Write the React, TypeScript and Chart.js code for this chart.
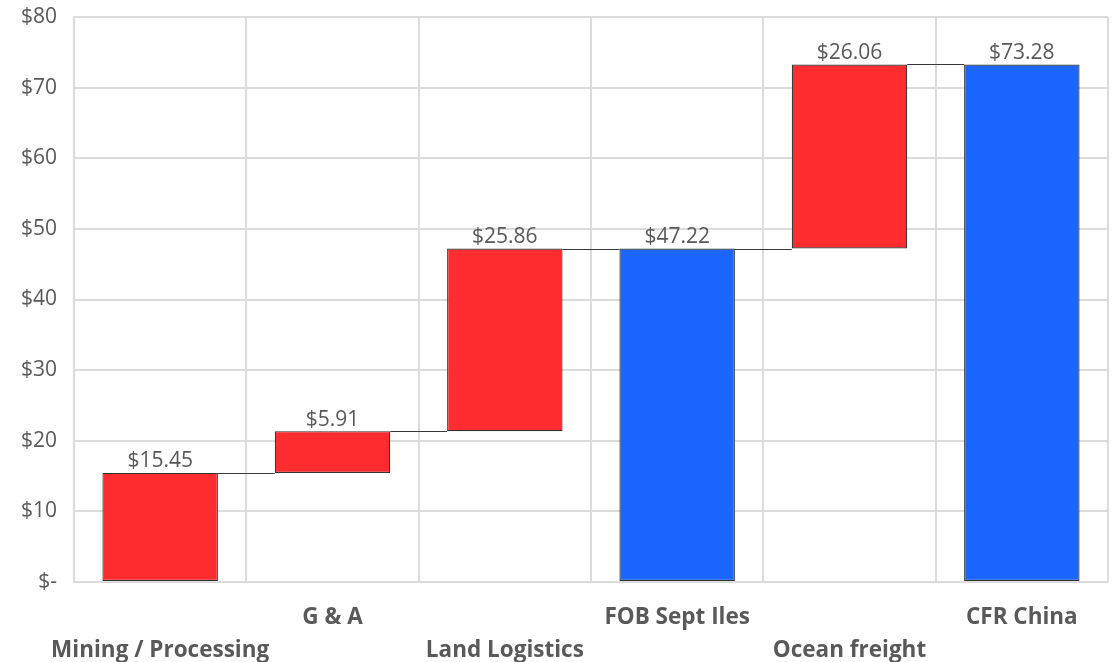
import React, { useEffect, useRef } from "react";
import { Chart, registerables } from "chart.js";

Chart.register(...registerables);

const categories = ["Mining / Processing", "G & A", "Land Logistics", "FOB Sept Iles", "Ocean freight", "CFR China"];
const stepValues = [15.45, 5.91, 25.86, 47.22, 26.06, 73.28];
const isTotal = [false, false, false, true, false, true];
const yTicks = [0, 10, 20, 30, 40, 50, 60, 70, 80];

const RED = "#FF2D2F";
const BLUE = "#1A66FF";
const TEXT = "#595959";
const FONT = "'Open Sans', 'DejaVu Sans', sans-serif";

function buildRanges(): [number, number][] {
  const out: [number, number][] = [];
  let running = 0;
  stepValues.forEach((v, i) => {
    if (isTotal[i]) {
      out.push([0, v]);
      running = v;
    } else {
      out.push([running, running + v]);
      running = running + v;
    }
  });
  return out;
}

const waterfallPlugin = {
  id: "waterfallExtras",
  afterDatasetsDraw(chart: any) {
    const meta = chart.getDatasetMeta(0);
    const ctx = chart.ctx;
    const els = meta.data;
    ctx.save();
    // connectors
    ctx.strokeStyle = "#3a3a3a";
    ctx.lineWidth = 1.2;
    for (let i = 0; i < els.length - 1; i++) {
      const a = els[i];
      const b = els[i + 1];
      const y = Math.round(a.y) + 0.5;
      ctx.beginPath();
      ctx.moveTo(a.x + a.width / 2, y);
      ctx.lineTo(b.x - b.width / 2, y);
      ctx.stroke();
    }
    // labels
    ctx.fillStyle = TEXT;
    ctx.font = `21px ${FONT}`;
    ctx.textAlign = "center";
    ctx.textBaseline = "bottom";
    els.forEach((el: any, i: number) => {
      ctx.fillText("$" + stepValues[i].toFixed(2), el.x, el.y - 1);
    });
    ctx.restore();
  },
};

export default function App() {
  const ref = useRef<HTMLCanvasElement | null>(null);
  useEffect(() => {
    if (!ref.current) return;
    const ranges = buildRanges();
    const chart = new Chart(ref.current, {
      type: "bar",
      data: {
        labels: categories,
        datasets: [
          {
            data: ranges as any,
            backgroundColor: isTotal.map((t) => (t ? BLUE : RED)),
            borderColor: "#333333",
            borderWidth: 1.2,
            borderSkipped: false,
            categoryPercentage: 1,
            barPercentage: 0.67,
          },
        ],
      },
      options: {
        animation: false,
        responsive: true,
        maintainAspectRatio: false,
        layout: { padding: { top: 17, right: 11, left: 0, bottom: 0 } },
        plugins: { legend: { display: false }, tooltip: { enabled: false } },
        scales: {
          x: {
            grid: { color: "#dcdcdc", lineWidth: 2, offset: true, drawTicks: false },
            border: { color: "#dcdcdc", width: 2 },
            ticks: {
              color: TEXT,
              font: { family: FONT, size: 22.5, weight: "bold", lineHeight: 1.47 },
              padding: 19,
              maxRotation: 0,
              autoSkip: false,
              callback: (_v: any, i: number) => (i % 2 === 0 ? ["", categories[i]] : [categories[i], ""]),
            },
            afterFit: (axis: any) => {
              axis.height = 80;
            },
          },
          y: {
            min: 0,
            max: 80,
            afterBuildTicks: (axis: any) => {
              axis.ticks = yTicks.map((v) => ({ value: v }));
            },
            grid: { color: "#dcdcdc", lineWidth: 2, drawTicks: false },
            border: { color: "#dcdcdc", width: 2 },
            ticks: {
              color: TEXT,
              font: { family: FONT, size: 21 },
              padding: 17,
              callback: (v: any) => (v === 0 ? "$-" : "$" + v),
            },
            afterFit: (axis: any) => {
              axis.width = 74;
              axis.paddingTop = 10;
              axis.paddingBottom = 10;
            },
          },
        },
      },
      plugins: [waterfallPlugin],
    });
    return () => chart.destroy();
  }, []);
  return (
    <div style={{ position: "absolute", left: 0, top: 0, width: 1119, height: 662 }}>
      <canvas ref={ref} />
    </div>
  );
}
